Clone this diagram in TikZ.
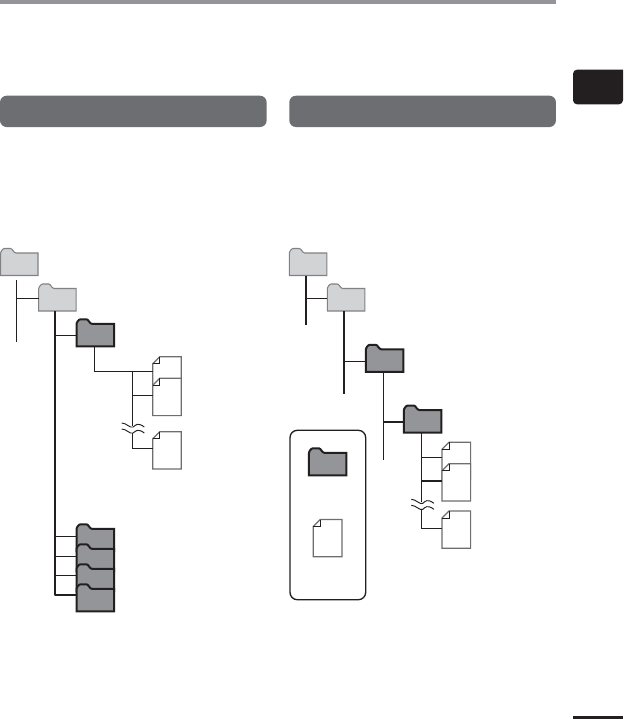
\documentclass[tikz,border=0pt]{standalone}
\definecolor{barc}{HTML}{939598}
\definecolor{headc}{HTML}{6D6E71}
\definecolor{inkc}{HTML}{231F20}
\definecolor{lightc}{HTML}{D1D3D4}
\definecolor{edgec}{HTML}{808285}
\tikzset{
  foldbox/.style={inner sep=0pt,outer sep=0pt,minimum width=28.125pt,minimum height=20.25pt,anchor=north west},
  docbox/.style={inner sep=0pt,outer sep=0pt,minimum width=21.45pt,minimum height=28pt,anchor=north west},
  headbox/.style={inner sep=0pt,outer sep=0pt,fill=headc,rounded corners=5pt,minimum width=200pt,minimum height=23.5pt,anchor=north west},
  lightfold/.style={fill=lightc,draw=edgec,line width=0.8pt,line join=miter},
  darkfold/.style={fill=barc,draw=inkc,line width=1.5pt,line join=miter},
  docshape/.style={fill=white,draw=headc,line width=0.9pt,line join=miter},
  fine/.style={draw=inkc,line width=0.7pt},
  heavy/.style={draw=inkc,line width=1.6pt},
}
\newcommand{\foldat}[4]{%
  \begin{scope}[shift={(#2,#3)}]
    \path[#4] (0,27) -- (0,5) .. controls (0,3.5) and (2,0) .. (4,0) -- (10,0) .. controls (12,0) and (13,4.5) .. (15.5,4.5) -- (37.5,4.5) -- (37.5,27) -- cycle;
    \node[foldbox] (#1) at (0,0) {};
  \end{scope}}
\newcommand{\docat}[3]{%
  \begin{scope}[shift={(#2,#3)}]
    \path[docshape] (7,0) -- (28.6,0) -- (28.6,37.3) -- (0,37.3) -- (0,7) -- cycle;
    \draw[draw=inkc,line width=0.6pt] (7,0) -- (7,7) -- (0,7);
    \node[docbox] (#1) at (0,0) {};
  \end{scope}}
\newcommand{\wavepair}[2]{%
  \begin{scope}[shift={(#1,#2)}]
    \draw[fine] (0,0) .. controls (5,0) and (8,5.5) .. (11.5,4) .. controls (14,2) and (16,-1) .. (22.6,4);
    \draw[fine] (0,6) .. controls (5,6) and (8,11.5) .. (11.5,10) .. controls (14,8) and (16,5) .. (22.6,10);
  \end{scope}}
\begin{document}
\begin{tikzpicture}[x=0.75pt,y=-0.75pt]
\useasboundingbox (0,0) rectangle (624,719);
\fill[white] (0,0) rectangle (624,719);
% page furniture
\fill[barc] (0,0) rectangle (556,4);
\node[headbox] (headL) at (0,95.7) {};
\node[headbox] (headR) at (289.3,95.7) {};
\fill[inkc,rounded corners=3pt] (623,69.7) -- (573,69.7) -- (573,104.3) -- (623,104.3) [sharp corners] -- cycle;
\fill[inkc] (573,716) rectangle (623,719);
% left tree
\foldat{La}{0.5}{248.5}{lightfold}
\foldat{Lb}{38.7}{284}{lightfold}
\foldat{Lc}{76.5}{319.3}{darkfold}
\docat{Da}{152.7}{356.7}
\docat{Db}{152.7}{378.3}
\docat{Dc}{152.7}{431.7}
\foldat{Ld}{76.5}{524.3}{darkfold}
\foldat{Le}{76.5}{544.3}{darkfold}
\foldat{Lf}{76.5}{564.3}{darkfold}
\foldat{Lg}{76.5}{584.3}{darkfold}
\coordinate (ta) at (16.3,280);
\coordinate (tae) at (16.3,341.7);
\coordinate (ja) at (16.3,298.3);
\draw[fine] (ta) -- (tae);
\draw[fine] (ja) -- (ja -| Lb.west);
\coordinate (tb) at (55,595);
\coordinate (jb) at (55,335.3);
\draw[heavy,line join=round] (tb |- Lb.south) -- (tb) -- (tb -| Lg.west);
\draw[fine] (jb) -- (jb -| Lc.west);
\coordinate (jd) at (55,536.3);
\coordinate (je) at (55,556.3);
\coordinate (jf) at (55,575.3);
\draw[fine] (jd) -- (jd -| Ld.west);
\draw[fine] (je) -- (je -| Le.west);
\draw[fine] (jf) -- (jf -| Lf.west);
\coordinate (tc) at (94.3,371.3);
\coordinate (td) at (132.3,371.3);
\coordinate (tdb) at (132.3,395.3);
\coordinate (tdw) at (132.3,426);
\coordinate (tdx) at (132.3,432.5);
\coordinate (tdy) at (132.3,448.3);
\draw[fine] (tc |- Lc.south) -- (tc) -- (tc -| Da.west);
\draw[fine] (td) -- (tdw);
\draw[fine] (tdb) -- (tdb -| Db.west);
\draw[fine] (tdx) -- (tdy) -- (tdy -| Dc.west);
\wavepair{121.7}{423}
% right tree
\foldat{Ra}{289.3}{248.5}{lightfold}
\foldat{Rb}{327.3}{284}{lightfold}
\foldat{Rc}{365.8}{344.8}{darkfold}
\foldat{Rd}{403.8}{405.5}{darkfold}
\docat{Ea}{442}{442.3}
\docat{Eb}{442}{463.7}
\docat{Ec}{442}{511}
\coordinate (ua) at (306,325);
\coordinate (ja2) at (306,298.3);
\draw[heavy] (ua |- Ra.south) -- (ua);
\draw[fine] (ja2) -- (ja2 -| Rb.west);
\coordinate (ub) at (343.7,393.7);
\coordinate (jb2) at (343.7,361.3);
\draw[heavy] (ub |- Rb.south) -- (ub);
\draw[fine] (jb2) -- (jb2 -| Rc.west);
\coordinate (uc) at (383.3,459.7);
\coordinate (jc2) at (383.3,421.7);
\draw[fine] (uc |- Rc.south) -- (uc);
\draw[heavy] (jc2) -- (jc2 -| Rd.west);
\coordinate (ud) at (421.7,502);
\coordinate (udx) at (421.7,508.5);
\coordinate (udy) at (421.7,528.3);
\coordinate (jd2) at (421.7,457.3);
\coordinate (je2) at (421.7,481);
\draw[fine] (ud |- Rd.south) -- (ud);
\draw[fine] (jd2) -- (jd2 -| Ea.west);
\draw[heavy] (je2) -- (je2 -| Eb.west);
\draw[fine] (udx) -- (udy) -- (udy -| Ec.west);
\wavepair{411.3}{499.3}
% legend
\draw[draw=inkc,line width=1pt,rounded corners=5.5pt] (290,430.3) rectangle (365.7,599.7);
\foldat{Ka}{308.9}{448.3}{darkfold}
\docat{Kb}{313.3}{519.5}
\end{tikzpicture}
\end{document}
